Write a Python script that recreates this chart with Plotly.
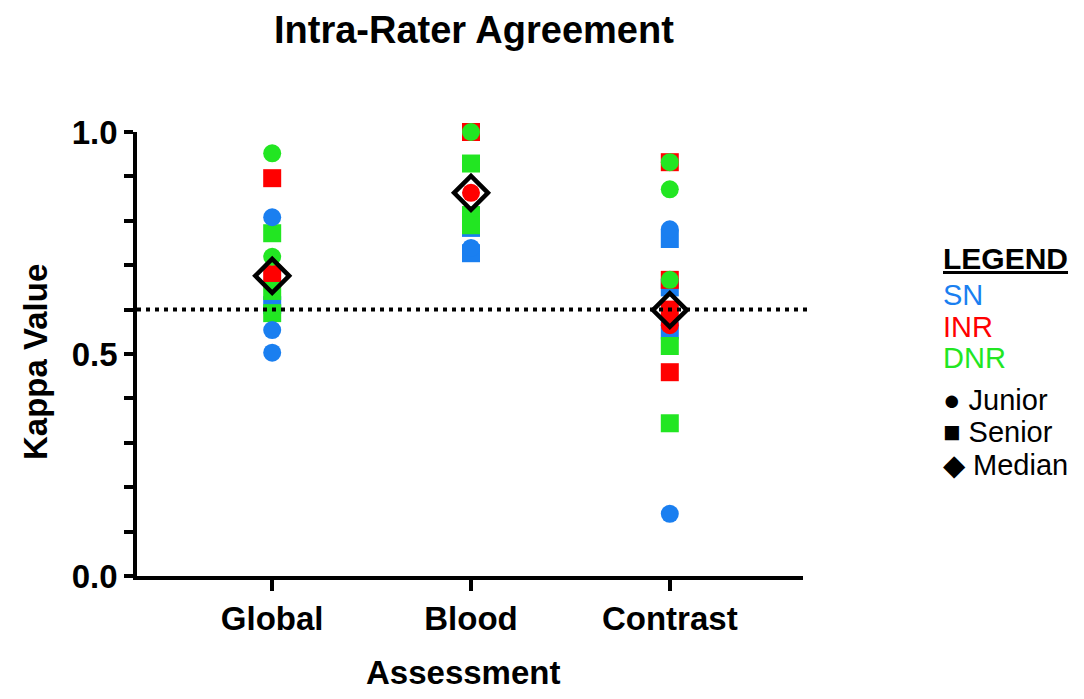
import plotly.graph_objects as go

# ---------------- data ----------------
categories = ["Global", "Blood", "Contrast"]

# SN (blue)
sn_junior = {"Global": [0.808, 0.554, 0.503], "Blood": [0.739], "Contrast": [0.781, 0.140]}
sn_senior = {"Global": [0.610], "Blood": [0.784, 0.727], "Contrast": [0.759, 0.650, 0.553]}
# INR (red)
inr_junior = {"Global": [], "Blood": [0.863], "Contrast": [0.565]}
inr_senior = {"Global": [0.896, 0.680], "Blood": [1.000], "Contrast": [0.932, 0.667, 0.600, 0.459]}
# DNR (green)
dnr_junior = {"Global": [0.952, 0.719], "Blood": [1.000], "Contrast": [0.932, 0.871, 0.667]}
dnr_senior = {"Global": [0.772, 0.642, 0.592], "Blood": [0.929, 0.813, 0.790], "Contrast": [0.518, 0.344]}

medians = [0.676, 0.863, 0.599]
threshold = 0.6

y_tickvals = [0.0, 0.5, 1.0]
y_ticktext = ["0.0", "0.5", "1.0"]

BLUE = "#1a7ff0"
RED = "#ff0000"
GREEN = "#22e622"

FONT = "Liberation Sans, Arial, sans-serif"

fig = go.Figure()


def add_group(d, color, symbol):
    xs, ys = [], []
    for c in categories:
        for v in d[c]:
            xs.append(c)
            ys.append(v)
    fig.add_trace(go.Scatter(
        x=xs, y=ys, mode="markers", cliponaxis=False, showlegend=False,
        marker=dict(symbol=symbol, size=18, color=color, line=dict(width=0)),
        hoverinfo="x+y"))


# squares first, then circles
add_group(sn_senior, BLUE, "square")
add_group(inr_senior, RED, "square")
add_group(dnr_senior, GREEN, "square")
add_group(sn_junior, BLUE, "circle")
add_group(inr_junior, RED, "circle")
add_group(dnr_junior, GREEN, "circle")

fig.add_trace(go.Scatter(
    x=categories, y=medians, mode="markers", cliponaxis=False, showlegend=False,
    marker=dict(symbol="diamond-open", size=26, color="black", line=dict(width=4.5, color="black"))))

fig.add_shape(type="line", xref="paper", yref="y", x0=0, x1=1.012, y0=threshold, y1=threshold,
              line=dict(color="black", width=4, dash="4px,5px"), layer="above")

# page has an 8px body margin; work in figure coordinates = screen - 8
OFF = 8
W, H = 1084, 699
L = 137 - OFF
T = 132 - OFF
R = W - (803 - OFF)
B = H - (576 - OFF)
pw = W - L - R
ph = H - T - B


def px(xs):
    return (xs - OFF - L) / pw


def py(ys):
    return (H - B - (ys - OFF)) / ph


fig.update_layout(
    width=W, height=H,
    margin=dict(l=L, r=R, t=T, b=B, pad=0),
    paper_bgcolor="white", plot_bgcolor="white",
    font=dict(family=FONT, color="black"),
    showlegend=False,
    xaxis=dict(
        type="category", categoryorder="array", categoryarray=categories,
        range=[-0.68, 2.67], showgrid=False, zeroline=False,
        showline=True, linecolor="black", linewidth=3.5,
        ticks="outside", ticklen=11, tickwidth=3.5, tickcolor="black",
        tickfont=dict(family=FONT, size=33, weight="bold", color="black"),
    ),
    yaxis=dict(
        range=[0, 1], showgrid=False, zeroline=False,
        showline=True, linecolor="black", linewidth=3.5,
        tickvals=y_tickvals, ticktext=y_ticktext,
        ticks="outside", ticklen=9, tickwidth=3.5, tickcolor="black",
        tickfont=dict(family=FONT, size=33, weight="bold", color="black"),
        minor=dict(dtick=0.1, ticks="outside", ticklen=9, tickwidth=3.5, tickcolor="black", showgrid=False),
    ),
)

ann = []
ann.append(dict(text="<b>Intra-Rater Agreement</b>", x=px(474), y=py(30), xref="paper", yref="paper",
                showarrow=False, font=dict(family=FONT, size=38, color="black"), xanchor="center", yanchor="middle"))
ann.append(dict(text="<b>Kappa Value</b>", x=px(35), y=py(362), xref="paper", yref="paper", textangle=-90,
                showarrow=False, font=dict(family=FONT, size=33, color="black"), xanchor="center", yanchor="middle"))
ann.append(dict(text="<b>Assessment</b>", x=px(463), y=py(672), xref="paper", yref="paper",
                showarrow=False, font=dict(family=FONT, size=33, color="black"), xanchor="center", yanchor="middle"))

legend_items = [
    ("<b><u>LEGEND</u></b>", "black", 30, 258),
    ("SN", BLUE, 29, 295),
    ("INR", RED, 29, 327),
    ("DNR", GREEN, 29, 358),
    ("● Junior", "black", 29, 400),
    ("■ Senior", "black", 29, 432),
    ("◆ Median", "black", 29, 465),
]
for t, c, s, yy in legend_items:
    ann.append(dict(text=t, x=px(941), y=py(yy), xref="paper", yref="paper", showarrow=False,
                    font=dict(family=FONT, size=s, color=c), xanchor="left", yanchor="middle"))

fig.update_layout(annotations=ann)
fig.write_html("out.html")
